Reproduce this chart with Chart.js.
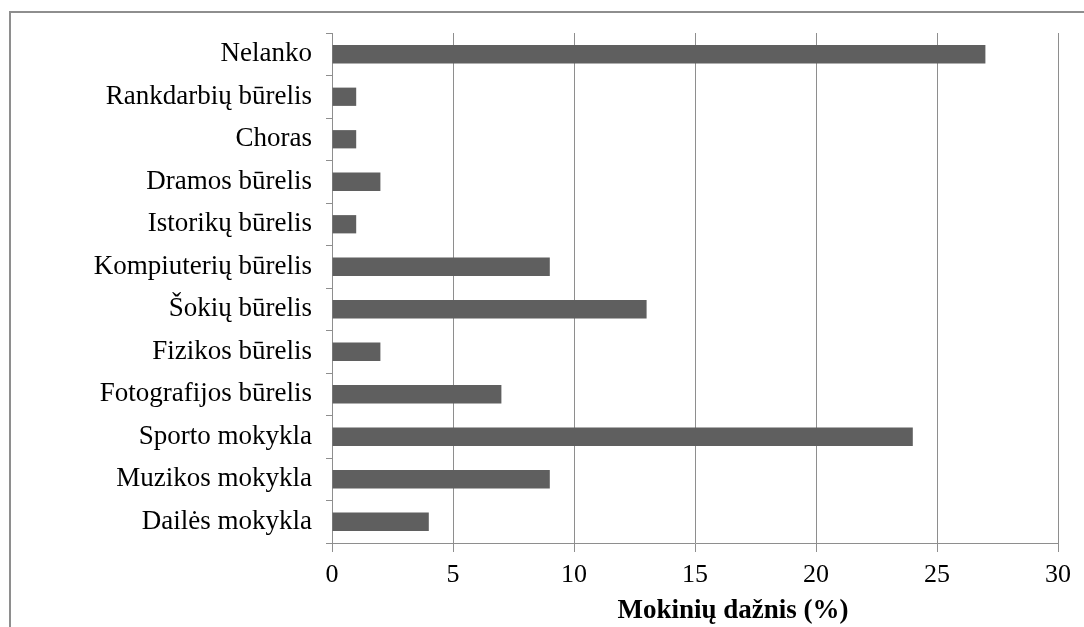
<!DOCTYPE html>
<html>
<head>
<meta charset="utf-8">
<script src="https://cdn.jsdelivr.net/npm/chart.js@4"></script>
<style>
  body { margin: 0; background: #fff; }
  #frame { position: absolute; left: 9px; top: 11px; width: 1100px; height: 640px; border: 2px solid #8e8e8e; }
  #wrap { position: absolute; left: 0; top: 0; width: 1084px; height: 627px; }
</style>
</head>
<body>
<div id="frame"></div>
<div id="wrap"><canvas id="myChart"></canvas></div>
<script>
var categories = ['Nelanko', 'Rankdarbių būrelis', 'Choras', 'Dramos būrelis', 'Istorikų būrelis',
  'Kompiuterių būrelis', 'Šokių būrelis', 'Fizikos būrelis', 'Fotografijos būrelis',
  'Sporto mokykla', 'Muzikos mokykla', 'Dailės mokykla'];
var percents = [27, 1, 1, 2, 1, 9, 13, 2, 7, 24, 9, 4];
var xTicks = [0, 5, 10, 15, 20, 25, 30];
var xTitle = 'Mokinių dažnis (%)';

var ctx = document.getElementById('myChart');
var serif = "'Liberation Serif', 'Times New Roman', serif";

// axis title sits a little right of the plot centre in the original
var titlePlugin = {
    id: 'xTitle',
    afterDraw: function (chart) {
        var c = chart.ctx;
        var area = chart.chartArea;
        c.save();
        c.font = 'bold 27px ' + serif;
        c.fillStyle = '#000';
        c.textAlign = 'center';
        c.textBaseline = 'middle';
        c.fillText(xTitle, (area.left + area.right) / 2 + 38, chart.height - 16);
        c.restore();
    }
};

var myChart = new Chart(ctx, {
    type: 'bar',
    data: {
        labels: categories,
        datasets: [{
            data: percents,
            backgroundColor: '#5f5f5f',
            barPercentage: 0.43,
            categoryPercentage: 1
        }]
    },
    plugins: [titlePlugin],
    options: {
        indexAxis: 'y',
        responsive: true,
        maintainAspectRatio: false,
        animation: false,
        layout: { padding: { top: 33, right: 26, left: 0, bottom: 0 } },
        plugins: { legend: { display: false }, tooltip: { enabled: false } },
        scales: {
            x: {
                min: 0,
                max: 30,
                afterBuildTicks: function (scale) {
                    scale.ticks = xTicks.map(function (v) { return { value: v }; });
                },
                afterFit: function (scale) { scale.height = 84; },
                grid: { color: '#8e8e8e', lineWidth: 1, tickLength: 9 },
                border: { color: '#8e8e8e', width: 1 },
                ticks: { color: '#000', padding: 8, font: { family: serif, size: 26 } }
            },
            y: {
                afterFit: function (scale) { scale.width = 332; },
                grid: { drawOnChartArea: false, color: '#8e8e8e', tickLength: 6, offset: true },
                border: { color: '#8e8e8e', width: 1 },
                ticks: { color: '#000', padding: 14, font: { family: serif, size: 27 } }
            }
        }
    }
});
</script>
</body>
</html>
